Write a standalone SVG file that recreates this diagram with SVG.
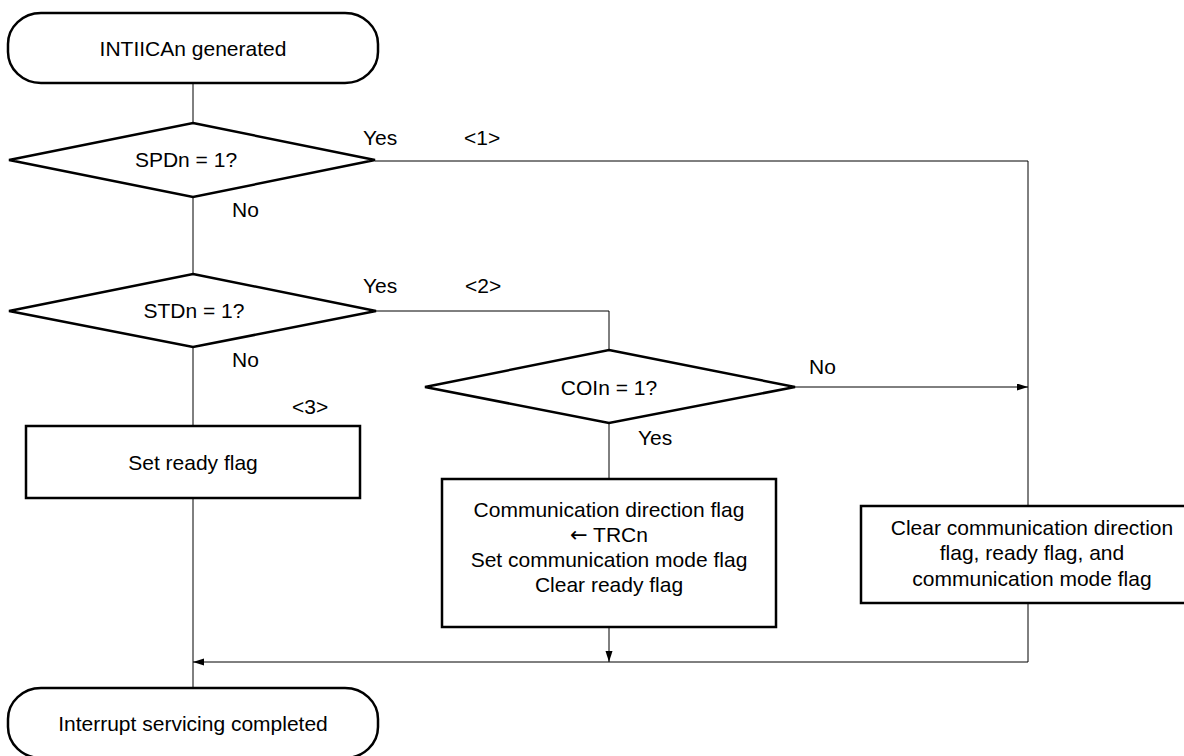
<svg xmlns="http://www.w3.org/2000/svg" width="1184" height="756" viewBox="0 0 1184 756">
<style>
.shape{fill:#fff;stroke:#000;stroke-width:2.5}
.conn{fill:none;stroke:#000;stroke-width:1}
text{font-family:"Liberation Sans",Arial,sans-serif;font-size:21px;fill:#000}
.c{text-anchor:middle}
.sym{font-family:"DejaVu Sans",sans-serif}
</style>
<defs>
<marker id="arr" markerUnits="userSpaceOnUse" markerWidth="12" markerHeight="8" refX="11" refY="3.5" orient="auto">
<path d="M0,0 L11,3.5 L0,7 z" fill="#000"/>
</marker>
</defs>
<rect width="1184" height="756" fill="#fff"/>
<g id="connectors">
<line class="conn" x1="193" y1="83" x2="193" y2="123"/>
<line class="conn" x1="193" y1="197" x2="193" y2="274"/>
<line class="conn" x1="193" y1="347" x2="193" y2="426"/>
<line class="conn" x1="193" y1="498" x2="193" y2="688"/>
<polyline class="conn" points="375,161 1028,161 1028,662"/>
<polyline class="conn" points="376,311 609,311 609,350"/>
<line class="conn" x1="795" y1="387" x2="1028" y2="387" marker-end="url(#arr)"/>
<line class="conn" x1="609" y1="423" x2="609" y2="479"/>
<line class="conn" x1="609" y1="627" x2="609" y2="662" marker-end="url(#arr)"/>
<line class="conn" x1="1028" y1="662" x2="193" y2="662" marker-end="url(#arr)"/>
<text x="363" y="145">Yes</text>
<text x="464" y="145">&lt;1&gt;</text>
<text x="232" y="217">No</text>
<text x="363" y="293">Yes</text>
<text x="465" y="293">&lt;2&gt;</text>
<text x="232" y="367">No</text>
<text x="292" y="414">&lt;3&gt;</text>
<text x="638" y="445">Yes</text>
<text x="809" y="374">No</text>
</g>
<g id="start">
<rect class="shape" x="8" y="13" width="370" height="70" rx="33" ry="31"/>
<text class="c" x="193" y="56">INTIICAn generated</text>
</g>
<g id="spd">
<polygon class="shape" points="193,123 375,160 193,197 9,160"/>
<text class="c" x="186" y="167">SPDn = 1?</text>
</g>
<g id="std">
<polygon class="shape" points="193,274 376,311 193,347 9,311"/>
<text class="c" x="194" y="318">STDn = 1?</text>
</g>
<g id="coi">
<polygon class="shape" points="609,350 795,387 609,423 425,387"/>
<text class="c" x="609" y="395">COIn = 1?</text>
</g>
<g id="setready">
<rect class="shape" x="26" y="426" width="334" height="72"/>
<text class="c" x="193" y="470">Set ready flag</text>
</g>
<g id="commdir">
<rect class="shape" x="442" y="479" width="334" height="148"/>
<text class="c" x="609" y="517">Communication direction flag</text>
<text class="c" x="609" y="542"><tspan class="sym">←</tspan> TRCn</text>
<text class="c" x="609" y="567">Set communication mode flag</text>
<text class="c" x="609" y="592">Clear ready flag</text>
</g>
<g id="clearall">
<rect class="shape" x="861" y="506" width="335" height="97"/>
<text class="c" x="1032" y="535">Clear communication direction</text>
<text class="c" x="1032" y="560">flag, ready flag, and</text>
<text class="c" x="1032" y="586">communication mode flag</text>
</g>
<g id="end">
<rect class="shape" x="8" y="688" width="370" height="70" rx="33" ry="31"/>
<text class="c" x="193" y="731">Interrupt servicing completed</text>
</g>
</svg>
